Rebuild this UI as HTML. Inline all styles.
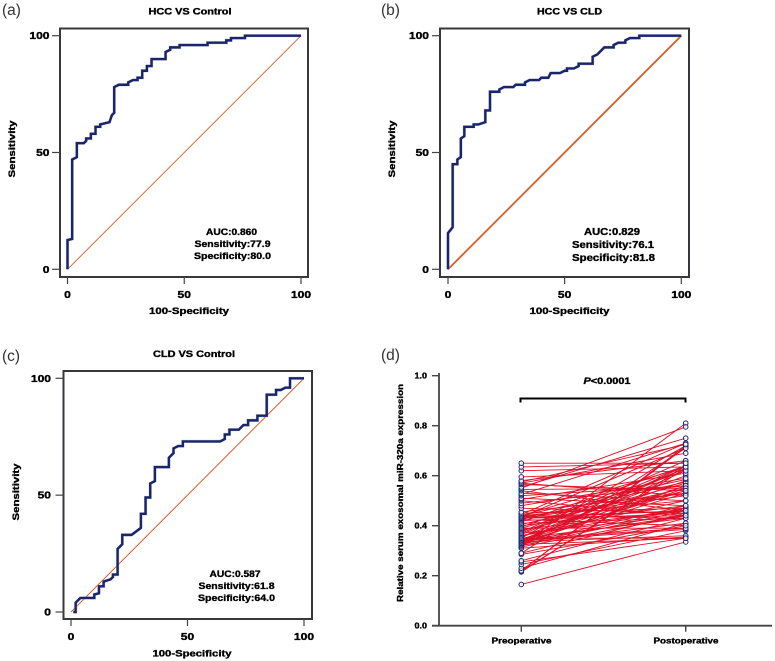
<!DOCTYPE html>
<html lang="en">
<head>
<meta charset="utf-8">
<title>ROC curves and paired miR-320a expression</title>
<style>
html,body{margin:0;padding:0;background:#fff;width:775px;height:661px;overflow:hidden}
svg{display:block;filter:blur(0.25px)}
text{font-family:"Liberation Sans",sans-serif;font-weight:bold;fill:#000;stroke:#000;stroke-width:0.35px}
.panel-tag{font-weight:normal;font-size:15.5px;fill:#333;stroke:none}
</style>
</head>
<body>
<svg id="figure" width="775" height="661" viewBox="0 0 775 661" xmlns="http://www.w3.org/2000/svg">
  <rect width="775" height="661" fill="#fff"/>

  <g id="panel-a">
    <text class="panel-tag" x="2" y="15">(a)</text>
    <text x="190" y="14.5" font-size="9.5" text-anchor="middle" textLength="83" lengthAdjust="spacingAndGlyphs">HCC VS Control</text>
    <text x="189" y="314" font-size="9.5" text-anchor="middle" textLength="80" lengthAdjust="spacingAndGlyphs">100-Specificity</text>
    <text transform="translate(15,149) rotate(-90)" font-size="9.5" text-anchor="middle" textLength="57" lengthAdjust="spacingAndGlyphs">Sensitivity</text>
    <text x="231.5" y="235" font-size="9.5" text-anchor="middle" textLength="51" lengthAdjust="spacingAndGlyphs">AUC:0.860</text>
    <text x="232.5" y="247" font-size="9.5" text-anchor="middle" textLength="76" lengthAdjust="spacingAndGlyphs">Sensitivity:77.9</text>
    <text x="232.5" y="259" font-size="9.5" text-anchor="middle" textLength="77" lengthAdjust="spacingAndGlyphs">Specificity:80.0</text>
  </g>

  <g id="panel-b">
    <text class="panel-tag" x="381" y="15">(b)</text>
    <text x="569.5" y="14.5" font-size="9.5" text-anchor="middle" textLength="65" lengthAdjust="spacingAndGlyphs">HCC VS CLD</text>
    <text x="569.5" y="314" font-size="9.5" text-anchor="middle" textLength="80" lengthAdjust="spacingAndGlyphs">100-Specificity</text>
    <text transform="translate(395,149) rotate(-90)" font-size="9.5" text-anchor="middle" textLength="57" lengthAdjust="spacingAndGlyphs">Sensitivity</text>
    <text x="612" y="235" font-size="10" text-anchor="middle" textLength="56" lengthAdjust="spacingAndGlyphs">AUC:0.829</text>
    <text x="613" y="248" font-size="10" text-anchor="middle" textLength="82" lengthAdjust="spacingAndGlyphs">Sensitivity:76.1</text>
    <text x="613.5" y="261" font-size="10" text-anchor="middle" textLength="83" lengthAdjust="spacingAndGlyphs">Specificity:81.8</text>
  </g>

  <g id="panel-c">
    <text class="panel-tag" x="2" y="361">(c)</text>
    <text x="194" y="357" font-size="9.5" text-anchor="middle" textLength="82" lengthAdjust="spacingAndGlyphs">CLD VS Control</text>
    <text x="192" y="656.5" font-size="9.5" text-anchor="middle" textLength="79" lengthAdjust="spacingAndGlyphs">100-Specificity</text>
    <text transform="translate(19,492) rotate(-90)" font-size="9.5" text-anchor="middle" textLength="57" lengthAdjust="spacingAndGlyphs">Sensitivity</text>
    <text x="235" y="577" font-size="9.5" text-anchor="middle" textLength="51" lengthAdjust="spacingAndGlyphs">AUC:0.587</text>
    <text x="236.5" y="589" font-size="9.5" text-anchor="middle" textLength="76" lengthAdjust="spacingAndGlyphs">Sensitivity:61.8</text>
    <text x="236.5" y="601" font-size="9.5" text-anchor="middle" textLength="77" lengthAdjust="spacingAndGlyphs">Specificity:64.0</text>
  </g>

  <g id="panel-d">
    <text class="panel-tag" x="381" y="360">(d)</text>
    <text transform="translate(403,493) rotate(-90)" font-size="8" text-anchor="middle" textLength="218" lengthAdjust="spacingAndGlyphs">Relative serum exosomal miR-320a expression</text>
    <text x="607" y="384" font-size="9" text-anchor="middle" textLength="47" lengthAdjust="spacingAndGlyphs"><tspan font-style="italic">P</tspan>&lt;0.0001</text>
    <text x="521.5" y="643.5" font-size="8.5" text-anchor="middle" textLength="60" lengthAdjust="spacingAndGlyphs">Preoperative</text>
    <text x="686" y="643.5" font-size="8.5" text-anchor="middle" textLength="65" lengthAdjust="spacingAndGlyphs">Postoperative</text>
  </g>
</svg>

<script>
const rocTicks = [0, 50, 100];
const rocASpec = [0,0,2,2,4,4,7,8,8,10,10,12,12,14,14,18,19,20,20,22,26,26,28,30,30,32,32,34,34,36,36,42,42,44,44,48,48,60,60,68,68,70,70,76,76,100];
const rocASens = [0,12.5,13,47,48,54,54,55,56,56,58,58,61,61,62,63,66,67,78,79,79,80,81,81,82,82,85,85,87,87,90,90,93,94,95,95,96,96,97,97,98,98,99,99,100,100];
const rocBSpec = [0,0,2,2,4,4,5.5,5.5,7,7,11,11,13,16,16,18,18,22,22,24,28,29,33,33,35,39,40,43,44,48,50,51,51,54,56,56,62,62,64,66,67,71,71,73,76,76,78,82,82,100];
const rocBSens = [0,15.5,18,45,45,47,48,56,57,61,61,62,62,63,68,68,76,76,77,78,78,79,79,80,81,81,82,82,84,84,85,85,86,86,87,88,88,91,92,94,95,95,96,97,97,98,99,99,100,100];
const rocCSpec = [1,2,2,3,4,10,10,12,12,14,14,17,18,18,20,20,22,22,26,30,30,32,32,34,34,36,36,42,42,44,44,46,48,48,64,66,66,68,68,72,74,76,76,80,80,84,84,88,88,90,92,94,94,100];
const rocCSens = [0,0,4,5,6,6,7.5,8,11,11,13,14,15,16,16,27,29,33,33,36,42,42,49,49,55,56,62,62,66,68,70,71,71,73,73,74,76,76,78,78,80,80,82,82,84,84,93,93,95,95,96,96,100,100];
const pairedTicks = [0.0, 0.2, 0.4, 0.6, 0.8, 1.0];
const pairedCategories = ["Preoperative", "Postoperative"];
const preValues = [0.165,0.215,0.218,0.22,0.22,0.23,0.245,0.255,0.26,0.285,0.29,0.29,0.31,0.315,0.32,0.32,0.325,0.325,0.325,0.33,0.33,0.33,0.33,0.335,0.335,0.335,0.34,0.34,0.34,0.34,0.345,0.345,0.345,0.35,0.35,0.35,0.355,0.36,0.36,0.365,0.37,0.37,0.375,0.38,0.385,0.39,0.39,0.395,0.40,0.405,0.41,0.415,0.42,0.425,0.425,0.43,0.43,0.43,0.435,0.435,0.435,0.44,0.44,0.44,0.44,0.445,0.45,0.455,0.47,0.48,0.49,0.50,0.505,0.51,0.52,0.525,0.53,0.54,0.545,0.55,0.555,0.565,0.57,0.57,0.575,0.58,0.595,0.62,0.635,0.65];
const postValues = [0.335,0.64,0.63,0.715,0.72,0.41,0.38,0.35,0.43,0.40,0.45,0.71,0.355,0.44,0.46,0.81,0.47,0.56,0.35,0.48,0.41,0.64,0.55,0.36,0.53,0.62,0.385,0.54,0.44,0.63,0.56,0.39,0.58,0.72,0.43,0.35,0.60,0.47,0.50,0.63,0.44,0.64,0.66,0.54,0.46,0.57,0.39,0.62,0.48,0.55,0.43,0.64,0.45,0.575,0.40,0.52,0.44,0.46,0.71,0.46,0.53,0.585,0.635,0.50,0.43,0.73,0.47,0.53,0.45,0.59,0.56,0.44,0.61,0.48,0.56,0.73,0.50,0.46,0.55,0.795,0.75,0.54,0.69,0.52,0.725,0.66,0.62,0.635,0.65,0.65];

const SVG_NS = "http://www.w3.org/2000/svg";
function shape(parent, tag, attrs) {
  const el = document.createElementNS(SVG_NS, tag);
  for (const key in attrs) el.setAttribute(key, attrs[key]);
  
  parent.appendChild(el);
  return el;
}
function label(parent, str, x, y, width, anchor, size) {
  const el = shape(parent, "text", {x: x, y: y, "font-size": size, "text-anchor": anchor, textLength: width, lengthAdjust: "spacingAndGlyphs"});
  
  el.textContent = str;
  return el;
}

function drawRoc(parentId, box, specArr, sensArr, diagWidth, tickLabelY, labelRight) {
  const parent = document.getElementById(parentId);
  const sx = v => box.x0 + (box.x100 - box.x0) * v / 100;
  const sy = v => box.y0 + (box.y100 - box.y0) * v / 100;

  const frame = shape(parent, "rect", {x: box.left, y: box.top, width: box.right - box.left, height: box.bottom - box.top, fill: "none", stroke: "#38383c", "stroke-width": 2});
  

  rocTicks.forEach(t => {
    const xt = shape(parent, "line", {x1: sx(t), x2: sx(t), y1: box.bottom, y2: box.bottom + 7, stroke: "#444", "stroke-width": 1.2});
    
    const yt = shape(parent, "line", {x1: box.left - 8, x2: box.left, y1: sy(t), y2: sy(t), stroke: "#444", "stroke-width": 1.2});
    
    const w = String(t).length * 6.7;
    label(parent, String(t), sx(t), tickLabelY, w, "middle", 10);
    label(parent, String(t), labelRight, sy(t) + 3.5, w, "end", 10);
  });

  const diagonal = shape(parent, "line", {x1: sx(0), y1: sy(0), x2: sx(100), y2: sy(100), stroke: "#e05a28", "stroke-width": diagWidth});
  

  const pts = specArr.map((s, i) => sx(s).toFixed(2) + "," + sy(sensArr[i]).toFixed(2)).join(" ");
  const halo = shape(parent, "polyline", {points: pts, fill: "none", stroke: "#aab4e0", "stroke-width": 3.2, "stroke-linejoin": "miter", opacity: 0.6});
  
  const curve = shape(parent, "polyline", {points: pts, fill: "none", stroke: "#1a2468", "stroke-width": 2.4, "stroke-linejoin": "miter"});
  
}

drawRoc("panel-a", {left: 60, right: 308, top: 28.5, bottom: 277, x0: 67.5, x100: 301, y0: 269.3, y100: 35.7}, rocASpec, rocASens, 0.9, 298, 49.5);
drawRoc("panel-b", {left: 440, right: 689, top: 28.5, bottom: 277, x0: 448, x100: 681.3, y0: 269.3, y100: 35.7}, rocBSpec, rocBSens, 1.8, 298, 429);
drawRoc("panel-c", {left: 63.5, right: 312, top: 371, bottom: 619, x0: 71, x100: 304, y0: 612, y100: 378.3}, rocCSpec, rocCSens, 1, 640, 51);

(function drawPaired() {
  const parent = document.getElementById("panel-d");
  const y0 = 625.7, y1 = 375.7, xPre = 521.3, xPost = 685.7;
  const sy = v => y0 + (y1 - y0) * v;

  const yAxis = shape(parent, "line", {x1: 439, x2: 439, y1: 373, y2: y0 + 0.8, stroke: "#444", "stroke-width": 1.8});
  
  const xAxis = shape(parent, "line", {x1: 432, x2: 772, y1: y0, y2: y0, stroke: "#444", "stroke-width": 1.8});
  

  pairedTicks.forEach(t => {
    const tick = shape(parent, "line", {x1: 432, x2: 439, y1: sy(t), y2: sy(t), stroke: "#444", "stroke-width": 1.4});
    
    label(parent, t.toFixed(1), 427, sy(t) + 3, 12.5, "end", 8.5);
  });
  pairedCategories.forEach((c, i) => {
    const cx = i === 0 ? xPre : xPost;
    const tick = shape(parent, "line", {x1: cx, x2: cx, y1: y0, y2: y0 + 6, stroke: "#444", "stroke-width": 1.4});
    
  });

  const bracket = shape(parent, "polyline", {points: "520.5,402.5 520.5,398.5 685.5,398.5 685.5,402.5", fill: "none", stroke: "#000", "stroke-width": 2});
  

  preValues.forEach((v, i) => {
    const link = shape(parent, "line", {x1: xPre, y1: sy(v), x2: xPost, y2: sy(postValues[i]), stroke: "#de1029", "stroke-width": 0.95});
    
  });
  preValues.forEach(v => {
    const dot = shape(parent, "circle", {cx: xPre, cy: sy(v), r: 2.3, fill: "#fff", "fill-opacity": 0.7, stroke: "#1e2870", "stroke-width": 1});
    
  });
  postValues.forEach(v => {
    const dot = shape(parent, "circle", {cx: xPost, cy: sy(v), r: 2.3, fill: "#fff", "fill-opacity": 0.7, stroke: "#1e2870", "stroke-width": 1});
    
  });
})();
</script>
</body>
</html>
